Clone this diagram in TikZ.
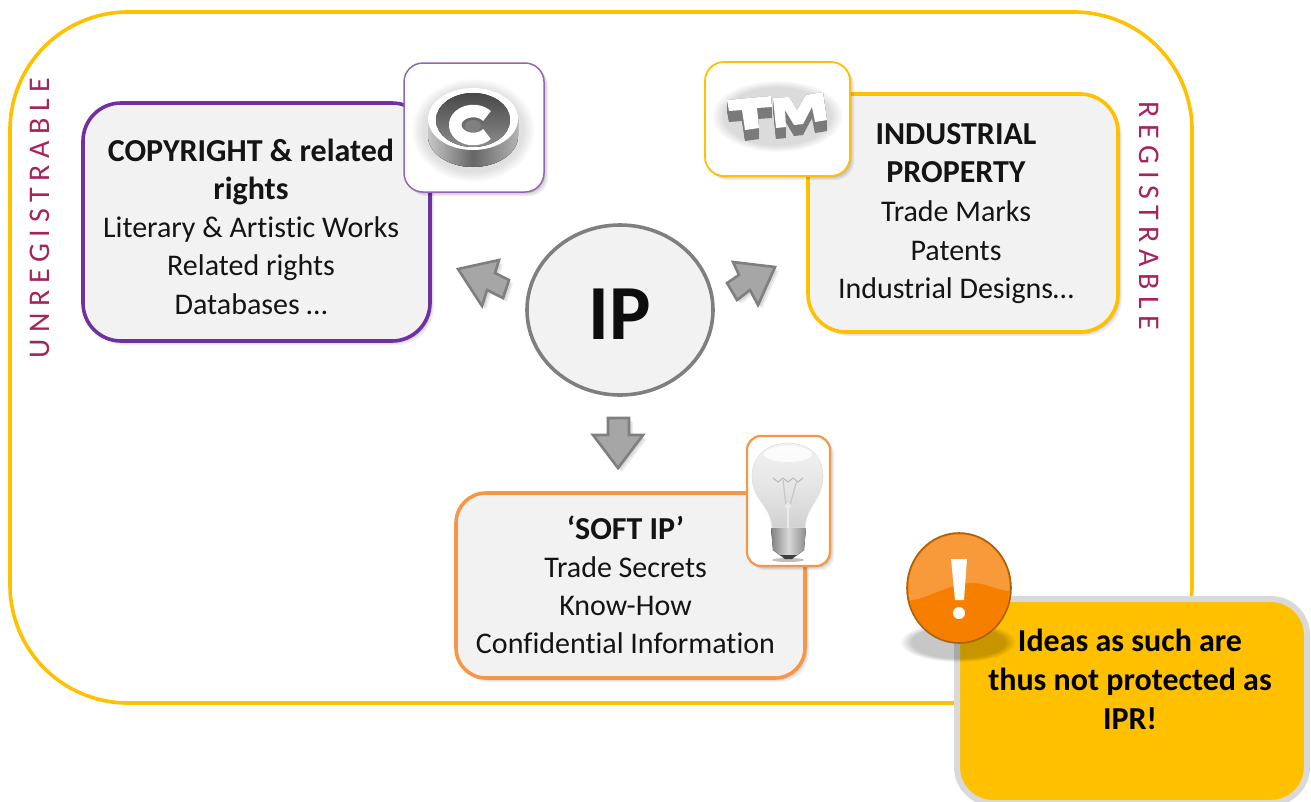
\documentclass[tikz,border=0pt]{standalone}
\usepackage{fontspec}
\setmainfont[Ligatures=NoCommon]{Carlito}
\newfontfamily\spaced[LetterSpace=22]{Carlito}
\usetikzlibrary{shadows,shapes.geometric,fadings}
\definecolor{gold}{HTML}{FFC000}
\definecolor{purp}{HTML}{7030A0}
\definecolor{orng}{HTML}{F79646}
\definecolor{panel}{HTML}{F2F2F2}
\definecolor{wine}{HTML}{A5245E}
\definecolor{arrowgray}{HTML}{A6A6A6}
\definecolor{arrowline}{HTML}{7F7F7F}
\definecolor{balltop}{HTML}{F8993A}
\definecolor{ballbot}{HTML}{F77F00}
\definecolor{ballrim}{HTML}{A8620F}
\tikzset{
  softsh/.style={general shadow={fill=black,opacity=.07,shadow xshift=4pt,shadow yshift=-4pt},
                 general shadow={fill=black,opacity=.08,shadow xshift=2.5pt,shadow yshift=-2.5pt},
                 general shadow={fill=black,opacity=.08,shadow xshift=1.2pt,shadow yshift=-1.2pt}},
  mainbox/.style={rectangle,rounded corners=38pt,fill=panel,line width=3.6pt,inner sep=0pt,softsh},
  iconbox/.style={rectangle,rounded corners=19pt,fill=white,inner sep=0pt,softsh},
  boxtext/.style={align=center,inner sep=0pt,text=black!92},
  blockarrow/.style={fill=arrowgray,draw=arrowline,line width=2.6pt,line join=miter,softsh},
  sidetext/.style={font=\spaced\fontsize{30}{32}\selectfont,text=wine,inner sep=0pt},
  glow/.style={fill=black,path fading=circle with fuzzy edge 20 percent}
}
\newcommand{\rg}{\fontsize{30}{30}\selectfont}
\newcommand{\bd}{\fontsize{32}{32}\selectfont\bfseries}
\begin{document}
\begin{tikzpicture}[x=1pt,y=-1pt]
\useasboundingbox (0,0) rectangle (1311,801);
% outer frame
\draw[gold,line width=3.6pt,rounded corners=118pt] (10,12) rectangle (1192,703);
% side labels
\node[sidetext,rotate=90] (unreg) at (40,218) {UNREGISTRABLE};
\node[sidetext,rotate=-90] (reg) at (1149,216) {REGISTRABLE};
% main boxes
\node[mainbox,draw=purp,minimum width=347pt,minimum height=238pt] (copyb) at (256.5,222) {};
\node[mainbox,draw=gold,minimum width=310pt,minimum height=238pt] (indb) at (963,213) {};
\node[mainbox,draw=orng,rounded corners=30pt,minimum width=349pt,minimum height=185pt] (softb) at (630.5,585.5) {};
% box texts
\node[boxtext,font=\fontsize{30}{38.2}\selectfont] (copyt) at (251,226.5) {{\bd COPYRIGHT \& related}\\{\bd rights}\\Literary \& Artistic Works\\Related rights\\Databases \dots};
\node[boxtext,font=\fontsize{30}{38.7}\selectfont] (indt) at (956,213.5) {{\bd INDUSTRIAL}\\{\bd PROPERTY}\\Trade Marks\\Patents\\Industrial Designs\dots};
\node[boxtext,font=\fontsize{30}{38}\selectfont] (softt) at (625.5,584.5) {{\bd ‘SOFT IP’}\\Trade Secrets\\Know-How\\Confidential Information};
% icon boxes
\node[iconbox,draw=purp!75,line width=1.5pt,minimum width=140pt,minimum height=129pt] (copyi) at (474,127.5) {};
\node[iconbox,draw=gold,line width=1.8pt,minimum width=145pt,minimum height=114pt] (tmi) at (777.5,119) {};
\node[iconbox,draw=orng,line width=2.2pt,rounded corners=14pt,minimum width=83pt,minimum height=130pt] (bulbi) at (788.5,501) {};
% copyright symbol
\fill[glow,opacity=.12] (473,130) ellipse[x radius=62,y radius=52];
\fill[black!45] (473,136) ellipse[x radius=45,y radius=31];
\fill[left color=black!22,right color=black!30,middle color=black!60] (428,119) -- (428,136) arc[start angle=180,end angle=360,x radius=45,y radius=-31] -- (518,119) -- cycle;
\fill[white] (473,119) ellipse[x radius=45,y radius=31];
\fill[top color=black!72,bottom color=black!45] (473,120) ellipse[x radius=37,y radius=27];
\draw[white,line width=12.5pt] (487,134) arc[start angle=40,end angle=320,x radius=18,y radius=14];
\fill[black!50] (473,126) ellipse[x radius=8,y radius=6];
% TM symbol
\fill[glow,opacity=.14] (777,116) ellipse[x radius=66,y radius=36];
\foreach \d in {0,1,...,11}{
  \fill[black!52] (727,100+\d) -- (771,96+\d) -- (772,107+\d) -- (757,108+\d) -- (759,128+\d) -- (745,130+\d) -- (742,110+\d) -- (729,111+\d) -- cycle;
  \fill[black!52] (773,98+\d) -- (789,97+\d) -- (797,110+\d) -- (806,95+\d) -- (823,92+\d) -- (827,120+\d) -- (815,122+\d) -- (812,107+\d) -- (803,124+\d) -- (794,125+\d) -- (785,110+\d) -- (786,127+\d) -- (776,128+\d) -- cycle;
}
\fill[white] (727,100) -- (771,96) -- (772,107) -- (757,108) -- (759,128) -- (745,130) -- (742,110) -- (729,111) -- cycle;
\fill[white] (773,98) -- (789,97) -- (797,110) -- (806,95) -- (823,92) -- (827,120) -- (815,122) -- (812,107) -- (803,124) -- (794,125) -- (785,110) -- (786,127) -- (776,128) -- cycle;
% light bulb
\fill[black,opacity=.25] (788,560) ellipse[x radius=16,y radius=2];
\draw[black!12,line width=.6pt,top color=black!5,bottom color=black!18,middle color=black!10]
  (772,528) .. controls (771,505) and (752,500) .. (752,476) .. controls (752,456) and (768,443) .. (788,443)
  .. controls (808,443) and (823,456) .. (823,476) .. controls (823,500) and (806,505) .. (805,528) -- cycle;
\fill[white,opacity=.8] (788,454) ellipse[x radius=24,y radius=8];
\draw[black!28,line width=1pt] (773,478) -- (778,482) -- (783,478) -- (788,482) -- (793,478) -- (798,482) -- (803,478);
\draw[black!22,line width=1.2pt] (783,480) -- (786,505) (797,480) -- (790,505);
\fill[black!8] (788,506) circle[radius=3];
\draw[black!8,line width=2.5pt] (788,508) -- (788,528);
\fill[left color=black!50,right color=black!45,middle color=black!15] (771,528) -- (806,528) -- (804,550) -- (796,556) -- (781,556) -- (773,550) -- cycle;
\fill[black!75] (780,555) -- (797,555) -- (792,559) -- (785,559) -- cycle;
% IP
\node[ellipse,draw=arrowline,fill=panel,line width=3.6pt,minimum width=186pt,minimum height=170pt,inner sep=0pt] (ip) at (620,310) {};
\node[inner sep=0pt,font=\bfseries\fontsize{78}{78}\selectfont,text=black!95] (ipt) at (620,314) {IP};
% block arrows
\path[blockarrow] (458,269) -- (499,260) -- (495,273) -- (509,280) -- (503,298) -- (487,290) -- (482,306) -- cycle;
\path[blockarrow] (775,267) -- (733,262) -- (739,275) -- (727,283) -- (737,300) -- (750,290) -- (758,305) -- cycle;
\path[blockarrow] (618,468) -- (593,435) -- (608,435) -- (608,418) -- (629,418) -- (629,435) -- (643,435) -- cycle;
% callout
\node[rectangle,rounded corners=36pt,fill=gold,draw=black!15,line width=6pt,inner sep=0pt,minimum width=350pt,minimum height=204pt,anchor=north west] (note) at (954,596) {};
\node[boxtext,font=\fontsize{32}{39}\selectfont\bfseries,text=black] (notet) at (1130,679) {Ideas as such are\\thus not protected as\\IPR!};
% warning ball
\fill[glow,opacity=.22] (958,642) ellipse[x radius=58,y radius=20];
\node[ellipse,draw=ballrim,fill=ballbot,line width=1.6pt,minimum width=104pt,minimum height=110pt,inner sep=0pt] (warn) at (959,588) {};
\begin{scope}
\clip (959,588) ellipse[x radius=50.5,y radius=53.5];
\fill[balltop] (900,530) rectangle (1015,602) ;
\fill[ballbot] (900,602) .. controls (930,600) and (945,584) .. (973,583) .. controls (985,583) and (995,590) .. (1015,592) -- (1015,650) -- (900,650) -- cycle;
\end{scope}
\fill[white] (951,559) -- (967,559) -- (964,600) -- (955,600) -- cycle;
\fill[white] (959,613) circle[radius=6];
\end{tikzpicture}
\end{document}
